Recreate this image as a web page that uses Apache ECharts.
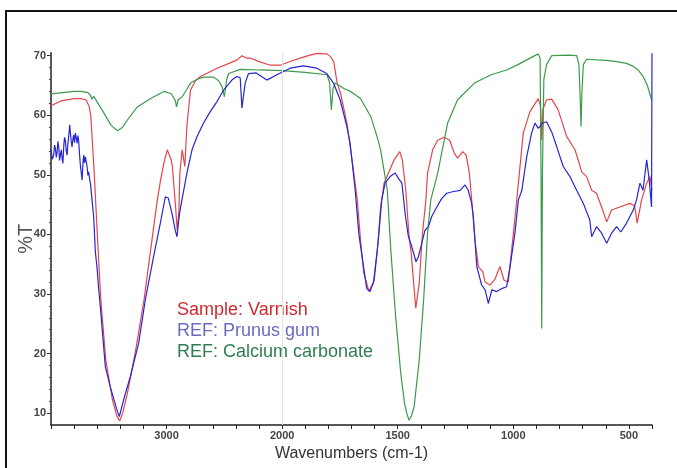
<!DOCTYPE html>
<html>
<head>
<meta charset="utf-8">
<script src="https://cdn.jsdelivr.net/npm/echarts@6/dist/echarts.min.js"></script>
<style>
  html, body { margin: 0; padding: 0; background: #fff; }
  #chart { width: 677px; height: 468px; }
</style>
</head>
<body>
<div id="chart"></div>
<script>
// ---- Data (wavenumber cm-1, %T) ----
const seriesNames = ['Sample: Varnish', 'REF: Prunus gum', 'REF: Calcium carbonate'];

const varnish = [
  [4000, 61.6], [3914, 62.4], [3800, 62.8], [3741, 62.8], [3698, 62.6], [3670, 61.5], [3655, 59.8],
  [3626, 50.3], [3597, 39.1], [3569, 29.0], [3526, 18.9], [3468, 12.2], [3430, 9.5], [3405, 8.7],
  [3380, 10.0], [3339, 13.3], [3267, 20.6], [3195, 29.0], [3138, 37.4], [3080, 45.8], [3052, 49.1],
  [3023, 52.0], [2994, 54.2], [2960, 52.5], [2950, 51.4], [2922, 44.6], [2908, 40.7], [2893, 44.0],
  [2885, 50.3], [2865, 54.2], [2855, 54.0], [2842, 51.4], [2830, 56.0], [2822, 58.7], [2793, 64.2],
  [2750, 65.8], [2707, 66.5], [2563, 67.9], [2450, 68.8], [2390, 69.3], [2347, 70.0], [2310, 69.6],
  [2276, 69.6], [2200, 69.0], [2103, 68.4], [2017, 68.4], [1960, 69.1], [1922, 69.6], [1880, 70.1],
  [1849, 70.4], [1806, 70.3], [1790, 69.8], [1777, 69.0], [1762, 65.4], [1748, 63.8], [1719, 58.5],
  [1690, 50.3], [1675, 45.8], [1661, 39.1], [1647, 33.5], [1625, 30.5], [1606, 31.8], [1588, 37.4],
  [1574, 44.6], [1559, 48.6], [1516, 52.5], [1491, 53.9], [1480, 52.5], [1465, 47.4], [1450, 39.1],
  [1443, 37.4], [1422, 27.6], [1407, 31.8], [1393, 40.2], [1378, 45.8], [1371, 50.3], [1349, 54.2],
  [1327, 55.8], [1299, 56.3], [1275, 55.8], [1255, 53.6], [1241, 52.8], [1219, 53.9], [1204, 53.3],
  [1190, 50.3], [1180, 45.8], [1166, 39.1], [1151, 34.6], [1132, 33.7], [1122, 32.0], [1101, 31.5],
  [1079, 32.5], [1058, 34.6], [1040, 32.3], [1022, 32.0], [1007, 37.4], [985, 45.8], [957, 57.0],
  [928, 60.6], [892, 62.8], [882, 61.5], [877, 55.8], [872, 61.0], [856, 62.6], [834, 62.7],
  [806, 60.9], [769, 56.4], [733, 54.2], [704, 50.5], [683, 49.7], [661, 47.4], [640, 46.9],
  [618, 44.6], [596, 42.1], [575, 44.1], [539, 44.6], [496, 45.2], [475, 44.8], [464, 41.9],
  [445, 45.8], [423, 48.6], [409, 49.7], [400, 47.4]
];

const prunusGum = [
  [4000, 54.2], [3988, 52.6], [3977, 53.3], [3969, 55.0], [3962, 54.4], [3954, 52.9], [3947, 53.9],
  [3940, 55.6], [3933, 54.7], [3926, 52.4], [3919, 53.3], [3911, 54.2], [3904, 52.8], [3897, 51.9],
  [3890, 54.7], [3883, 56.3], [3876, 55.8], [3868, 54.0], [3861, 53.3], [3854, 55.2], [3847, 56.4],
  [3838, 58.4], [3832, 57.0], [3826, 55.8], [3818, 54.7], [3811, 55.9], [3804, 56.7], [3796, 55.4],
  [3789, 57.0], [3781, 56.2], [3774, 55.3], [3767, 56.6], [3761, 55.8], [3753, 53.4], [3746, 51.6],
  [3738, 50.3], [3731, 49.1], [3724, 51.8], [3717, 53.3], [3710, 52.0], [3703, 53.0], [3695, 52.2],
  [3688, 51.4], [3681, 49.9], [3674, 50.5], [3666, 49.3], [3659, 48.6], [3645, 45.8], [3631, 43.0],
  [3616, 37.0], [3602, 34.5], [3588, 31.0], [3573, 27.8], [3530, 17.8], [3487, 14.4], [3429, 10.5],
  [3409, 9.4], [3372, 12.2], [3314, 16.1], [3242, 21.7], [3184, 29.0], [3112, 36.3], [3054, 41.9],
  [3011, 46.3], [2985, 46.1], [2953, 43.5], [2925, 40.7], [2910, 39.6], [2888, 43.5], [2867, 45.8],
  [2824, 50.3], [2780, 54.2], [2737, 56.4], [2680, 58.7], [2622, 60.6], [2564, 62.3], [2507, 64.2],
  [2435, 65.9], [2392, 66.5], [2363, 66.3], [2348, 61.2], [2320, 65.4], [2291, 67.0], [2225, 67.1],
  [2132, 65.9], [2046, 66.8], [1965, 67.9], [1908, 68.3], [1850, 67.9], [1807, 67.0], [1778, 65.4],
  [1749, 62.6], [1720, 58.1], [1706, 55.3], [1684, 47.4], [1668, 40.0], [1648, 34.6], [1634, 30.9],
  [1620, 30.4], [1602, 32.3], [1584, 39.1], [1569, 45.8], [1555, 48.6], [1533, 49.7], [1511, 50.3],
  [1497, 49.4], [1482, 48.6], [1468, 43.5], [1455, 39.9], [1439, 37.9], [1421, 35.4], [1411, 36.2],
  [1396, 38.5], [1382, 40.7], [1367, 41.3], [1353, 43.0], [1331, 44.6], [1310, 46.0], [1288, 46.9],
  [1259, 47.2], [1230, 47.4], [1209, 48.3], [1195, 47.4], [1180, 45.2], [1173, 43.0], [1158, 34.6],
  [1137, 31.5], [1122, 30.7], [1108, 28.4], [1093, 30.7], [1072, 30.4], [1050, 30.9], [1029, 31.2],
  [1014, 34.6], [993, 40.2], [978, 45.8], [963, 47.4], [942, 53.0], [921, 57.0], [906, 58.7],
  [892, 57.8], [873, 58.7], [856, 58.9], [834, 57.2], [812, 54.7], [784, 51.4], [755, 49.7],
  [726, 47.4], [697, 45.2], [669, 42.4], [661, 39.6], [640, 41.3], [618, 40.2], [596, 38.5],
  [575, 40.2], [553, 41.3], [535, 40.4], [510, 41.9], [481, 44.1], [467, 45.8], [452, 48.6],
  [439, 47.4], [423, 52.5], [412, 49.1], [402, 44.6], [400, 70.4]
];

const calciumCarbonate = [
  [4000, 63.6], [3900, 63.8], [3800, 64.0], [3740, 64.0], [3680, 63.8], [3660, 63.4], [3645, 62.7],
  [3630, 63.2], [3600, 62.2], [3543, 60.4], [3480, 58.3], [3425, 57.4], [3380, 58.0], [3339, 59.2],
  [3253, 61.4], [3138, 62.8], [3023, 64.0], [2960, 63.6], [2925, 62.5], [2914, 61.4], [2900, 62.6],
  [2865, 63.1], [2830, 64.2], [2793, 65.4], [2730, 66.1], [2678, 66.4], [2592, 66.4], [2550, 65.8],
  [2520, 64.8], [2500, 63.1], [2480, 66.0], [2463, 67.0], [2362, 67.7], [2200, 67.6], [2000, 67.5],
  [1900, 67.2], [1806, 66.8], [1795, 65.5], [1787, 60.9], [1780, 64.5], [1770, 65.4], [1733, 64.5],
  [1704, 64.0], [1661, 62.8], [1617, 59.8], [1590, 56.5], [1574, 54.2], [1545, 47.4], [1530, 37.4],
  [1509, 26.2], [1487, 16.7], [1470, 11.5], [1461, 10.0], [1451, 8.8], [1440, 9.6], [1429, 11.1],
  [1407, 18.9], [1388, 29.0], [1371, 40.2], [1357, 45.8], [1327, 50.3], [1284, 58.7], [1241, 62.6],
  [1168, 65.4], [1096, 66.8], [1029, 67.6], [980, 68.5], [942, 69.3], [892, 70.3], [884, 69.5],
  [880, 50.0], [877, 24.2], [874, 50.0], [868, 66.0], [856, 68.5], [834, 70.0], [760, 70.1],
  [726, 70.0], [716, 68.5], [710, 62.0], [707, 58.1], [703, 64.0], [697, 68.5], [683, 69.4],
  [600, 69.2], [553, 69.0], [510, 68.7], [481, 68.2], [460, 67.6], [438, 66.5], [420, 65.0],
  [402, 62.6]
];

const xTickLabels = [3000, 2000, 1500, 1000, 500];
const yTickLabels = [10, 20, 30, 40, 50, 60, 70];

// ---- Axis transform: spectrum scale is halved above 2000 cm-1 ----
const BREAK = 2000;
const toAxis = w => (w <= BREAK ? w : BREAK + (w - BREAK) / 2);
const fromAxis = u => (u <= BREAK ? u : BREAK + (u - BREAK) * 2);

const xTickPositions = [];
for (let u = 400; u <= 3000; u += 100) xTickPositions.push(u);
const yMinorTicks = [];
for (let v = 10; v <= 70; v += 2) yMinorTicks.push(v);

const colors = ['#e4454b', '#2626d2', '#3c9a4c'];
const textColors = ['#d02a2e', '#6a6cc0', '#2f7c50'];
const datasets = [varnish, prunusGum, calciumCarbonate];

const chart = echarts.init(document.getElementById('chart'), null, { renderer: 'canvas' });

const labelFont = { fontFamily: 'Liberation Sans, Arial, sans-serif', fontWeight: 'bold', fontSize: 11, color: '#444' };

const option = {
  animation: false,
  backgroundColor: '#fff',
  graphic: [{
    type: 'rect', z: -10, silent: true,
    shape: { x: 6, y: 11, width: 800, height: 600 },
    style: { fill: 'none', stroke: '#111', lineWidth: 2 }
  }],
  grid: { left: 51, right: 25, top: 52.7, bottom: 43, containLabel: false, outerBoundsMode: 'none' },
  legend: {
    orient: 'vertical', left: 167, top: 294.5,
    icon: 'none', itemWidth: 0, itemHeight: 21, itemGap: 0,
    selectedMode: false,
    textStyle: { fontFamily: 'Liberation Sans, Arial, sans-serif', fontSize: 18, lineHeight: 21 },
    data: seriesNames.map((n, i) => ({ name: n, textStyle: { color: textColors[i] } }))
  },
  xAxis: {
    type: 'value', inverse: true, min: 400, max: 3000,
    name: 'Wavenumbers (cm-1)', nameLocation: 'middle', nameGap: 21, nameMoveOverlap: false,
    nameTextStyle: { fontFamily: 'Liberation Sans, Arial, sans-serif', fontSize: 16, color: '#333' },
    axisLine: { lineStyle: { color: '#222', width: 1.5 } },
    axisTick: { show: true, length: 4, lineStyle: { color: '#222' }, customValues: xTickPositions },
    axisLabel: Object.assign({ margin: 5, customValues: xTickLabels.map(toAxis), formatter: v => String(Math.round(fromAxis(v))) }, labelFont),
    splitLine: { show: false }
  },
  yAxis: [{
    type: 'value', min: 8, max: 70.5,
    name: '%T', nameLocation: 'middle', nameGap: 15, nameRotate: 90, nameMoveOverlap: false,
    nameTextStyle: { fontFamily: 'Liberation Sans, Arial, sans-serif', fontSize: 20, color: '#555' },
    axisLine: { show: true, lineStyle: { color: '#222', width: 1.5 } },
    axisTick: { show: true, length: 4, lineStyle: { color: '#222' }, customValues: yTickLabels },
    axisLabel: Object.assign({ margin: 5, customValues: yTickLabels }, labelFont),
    splitLine: { show: false }
  }, {
    type: 'value', min: 8, max: 70.5, position: 'left',
    axisLine: { show: false },
    axisTick: { show: true, length: 2, lineStyle: { color: '#444' }, customValues: yMinorTicks },
    axisLabel: { show: false, customValues: yMinorTicks },
    splitLine: { show: false }
  }],
  series: datasets.map((d, i) => ({
    name: seriesNames[i],
    type: 'line',
    yAxisIndex: 0,
    data: d.map(([w, t]) => [toAxis(w), t]),
    showSymbol: false,
    symbol: 'none',
    smooth: false,
    lineStyle: { color: colors[i], width: 1.2 },
    itemStyle: { color: colors[i] },
    z: i === 1 ? 3 : 2,
    markLine: i === 0 ? {
      silent: true, symbol: 'none', label: { show: false },
      lineStyle: { color: '#e4e4e4', width: 1, type: 'solid' },
      data: [{ xAxis: toAxis(2000) }]
    } : undefined
  }))
};

chart.setOption(option);
</script>
</body>
</html>
